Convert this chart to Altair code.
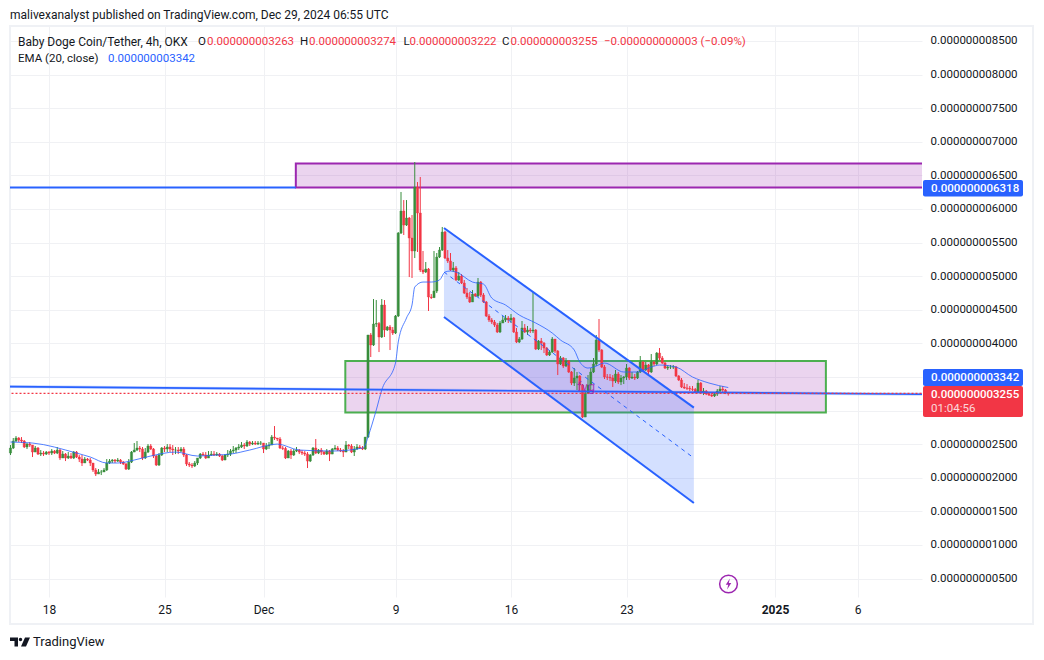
import altair as alt
import pandas as pd

# Prices are in units of 1e-12 USDT; one candle per four hours.
closes = [
2442,2546,2591,2561,2546,2457,2501,2486,2382,2442,
2352,2367,2352,2382,2367,2397,2367,2412,2293,2352,
2293,2323,2293,2382,2308,2278,2219,2278,2263,2219,
2115,2055,2085,2085,2115,2219,2248,2263,2248,2263,
2233,2204,2129,2233,2382,2412,2442,2427,2293,2382,
2472,2427,2323,2189,2338,2442,2427,2457,2427,2412,
2412,2397,2427,2338,2204,2189,2174,2219,2293,2352,
2338,2293,2338,2352,2338,2352,2323,2263,2338,2352,
2397,2412,2442,2457,2486,2472,2531,2501,2516,2501,
2516,2516,2427,2472,2486,2605,2591,2576,2442,2435,
2293,2397,2338,2397,2412,2382,2367,2352,2248,2338,
2442,2367,2412,2382,2352,2397,2352,2427,2442,2412,
2397,2382,2486,2472,2382,2427,2457,2442,2427,2605,
4124,3975,4287,4295,4094,4570,4198,4243,4198,4153,
4406,5641,5969,5760,5865,5567,5374,6326,5939,5091,
5061,5106,4689,4680,4778,5284,5388,5656,5269,5225,
5091,5121,4942,5001,4897,4748,4689,4615,4733,4704,
4912,4719,4615,4406,4347,4317,4272,4168,4302,4347,
4376,4347,4376,4168,4019,4064,4228,4168,4198,4183,
4198,3915,4034,4004,3930,3826,3870,4064,3885,3692,
3781,3662,3737,3573,3409,3484,3513,3379,2903,3260,
3379,3573,3692,4049,3900,3647,3499,3495,3484,3439,
3543,3424,3484,3499,3632,3484,3499,3484,3573,3722,
3603,3677,3573,3722,3692,3855,3781,3707,3632,3647,
3647,3650,3513,3454,3350,3335,3330,3320,3315,3275,
3409,3275,3290,3245,3230,3216,3245,3290,3320,3305,
3275,3255]
highs = [
2486,2591,2620,2605,2605,2561,2516,2531,2486,2472,
2457,2412,2397,2397,2397,2427,2412,2457,2427,2397,
2367,2382,2367,2397,2397,2338,2338,2308,2293,2293,
2219,2144,2129,2115,2144,2278,2278,2278,2278,2293,
2278,2248,2219,2278,2397,2516,2546,2472,2457,2442,
2501,2501,2442,2338,2367,2457,2472,2501,2501,2486,
2457,2457,2457,2457,2352,2233,2219,2248,2293,2367,
2382,2382,2397,2397,2397,2382,2367,2338,2352,2412,
2427,2472,2457,2501,2531,2516,2561,2546,2546,2546,
2546,2546,2516,2516,2531,2635,2769,2591,2605,2472,
2457,2412,2427,2427,2457,2427,2412,2397,2382,2352,
2457,2576,2427,2442,2397,2427,2412,2442,2486,2472,
2442,2427,2546,2501,2501,2472,2501,2486,2472,2605,
4124,4153,4659,4644,4317,4659,4644,4258,4272,4243,
4421,5656,6252,6132,6132,5880,5909,6698,6400,6475,
5374,5210,5121,4733,5374,5344,5433,5731,5671,5388,
5344,5210,5150,5061,5031,4942,4823,4763,4793,4748,
4972,4927,4748,4630,4436,4376,4347,4302,4332,4406,
4421,4406,4436,4391,4228,4094,4332,4287,4258,4228,
4763,4213,4049,4079,4019,3945,3900,4094,4064,3900,
3811,3796,3781,3751,3588,3632,3573,3528,3394,3305,
3528,3632,3781,4124,4362,3915,3677,3543,3543,3528,
3603,3573,3528,3513,3692,3647,3573,3543,3588,3811,
3737,3722,3692,3841,3737,3870,3930,3811,3722,3677,
3677,3677,3662,3528,3484,3409,3394,3365,3365,3335,
3454,3424,3335,3305,3275,3260,3275,3320,3365,3365,
3320,3274]
lows = [
2338,2427,2531,2531,2516,2442,2427,2457,2308,2382,
2338,2323,2323,2338,2338,2338,2352,2352,2263,2293,
2248,2278,2278,2278,2293,2233,2174,2219,2248,2174,
2085,2025,2055,2040,2085,2100,2204,2219,2219,2233,
2204,2189,2115,2115,2219,2382,2397,2382,2263,2278,
2367,2412,2293,2174,2174,2323,2382,2382,2382,2338,
2352,2352,2382,2308,2174,2159,2144,2159,2189,2278,
2323,2278,2293,2323,2323,2323,2308,2248,2263,2308,
2323,2367,2367,2412,2442,2427,2457,2472,2486,2486,
2486,2486,2367,2412,2427,2486,2561,2546,2427,2412,
2278,2323,2278,2323,2382,2352,2338,2323,2144,2233,
2323,2352,2352,2338,2338,2338,2248,2352,2412,2397,
2382,2308,2382,2427,2367,2323,2412,2427,2412,2412,
2591,3796,3960,4243,3870,4079,4094,4183,3900,4124,
4138,4391,5627,5612,5746,4986,4972,5269,5359,5061,
5031,5046,4481,4659,4674,4748,5269,5374,5255,5195,
5076,5061,4927,4927,4882,4733,4659,4600,4615,4689,
4689,4689,4600,4391,4317,4287,4243,4153,4153,4302,
4317,4302,4302,4153,4004,4004,4049,4153,4124,4153,
4153,3900,3900,3900,3855,3811,3811,3855,3855,3528,
3677,3632,3647,3558,3379,3365,3305,3275,2888,2903,
3245,3305,3558,3662,3870,3632,3469,3454,3439,3350,
3409,3394,3379,3394,3454,3454,3469,3454,3469,3558,
3573,3588,3543,3558,3662,3677,3751,3692,3618,3603,
3618,3618,3499,3439,3335,3320,3305,3290,3290,3260,
3260,3260,3230,3230,3216,3201,3201,3216,3275,3275,
3245,3222]
first_open = 2367
last_open = 3263

ema_bar = [0,8,24,29,35,39,45,51,60,68,75,80,87,97,105,117,128,129,130,133,135,140,141,144,146,147,150,153,156,158,160,162,168,172,175,180,185,191,197,200,205,207,210,212,216,223,228,233,236,242,248,254,261]
ema_val = [2531,2516,2367,2308,2219,2219,2263,2323,2382,2323,2338,2352,2412,2501,2412,2397,2442,2486,2605,3007,3305,3707,4020,4377,4570,4838,4912,4912,4942,5061,5076,5061,4912,4882,4674,4570,4421,4302,4153,4049,3900,3722,3632,3647,3707,3573,3573,3647,3677,3647,3499,3409,3342]

price_ticks = [500,1000,1500,2000,2500,3000,3500,4000,4500,5000,5500,6000,6500,7000,7500,8000,8500]
date_ticks = ["2024-11-18","2024-11-25","2024-12-01","2024-12-09","2024-12-16","2024-12-23","2025-01-01","2025-01-06"]

channel_dates = ["2024-12-11T22:30","2024-12-27T02:00"]
channel_upper = [5716,3043]
channel_lower = [4391,1623]
channel_mid = [5061,2293]

zone_top_dates = ["2024-12-02T23:00","2025-01-12T00:00"]
zone_top_prices = [6675,6318]
zone_mid_dates = ["2024-12-05T23:00","2025-01-04T02:00"]
zone_mid_prices = [3737,2970]

level_dates = ["2024-11-15T00:00","2025-01-12T00:00"]
level_high_dates = ["2024-11-15T00:00","2024-12-02T23:00"]
level_high = [6318,6318]
level_trend = [3357,3238]
level_last = [3255,3255]

BLUE, RED, GREEN, PURPLE = "#2962ff", "#f23645", "#388e3c", "#9c27b0"
INK = "#131722"
FONT = "Roboto"

def ms(s):
    return int(pd.Timestamp(s, tz="UTC").value // 10**6)

t0 = ms("2024-11-15T16:00")
STEP = 4 * 3600 * 1000
opens = [first_open] + closes[:-1]
opens[-1] = last_open
candles = pd.DataFrame({
    "t": [t0 + i * STEP for i in range(len(closes))],
    "o": opens, "c": closes,
    "h": [max(a, b, c) for a, b, c in zip(highs, opens, closes)],
    "l": [min(a, b, c) for a, b, c in zip(lows, opens, closes)],
})
candles["dir"] = ["up" if c >= o else "down" for o, c in zip(candles.o, candles.c)]

dom_x = [ms("2024-11-15T15:16"), ms("2024-11-15T15:16") + int(912 / 16.5 * 86400000)]
dom_y = [225, 8722]
xs = alt.Scale(type="utc", domain=dom_x, padding=0, nice=False)
ys = alt.Scale(domain=dom_y, zero=False, nice=False, padding=0)
col = alt.Color("dir:N", scale=alt.Scale(domain=["up", "down"], range=[GREEN, RED]), legend=None)

x_axis = alt.Axis(
    values=[ms(d) for d in date_ticks], title=None, grid=True, gridColor="#f0f1f4", gridWidth=1,
    ticks=False, domain=False, labelFont=FONT, labelFontSize=12, labelColor=INK, labelPadding=7,
    labelOverlap=False, labelFlush=False,
    labelExpr="utcdate(datum.value)==1 ? (utcmonth(datum.value)==0 ? '2025' : 'Dec') : utcdate(datum.value)+''",
    labelFontWeight={"condition": {"test": "utcmonth(datum.value)==0 && utcdate(datum.value)==1", "value": 700}, "value": 400},
)
y_axis = alt.Axis(
    values=price_ticks, orient="right", title=None, grid=True, gridColor="#f0f1f4", gridWidth=1,
    ticks=False, domain=False, labelFont=FONT, labelFontSize=11.5, labelColor=INK, labelPadding=8,
    labelAlign="left", labelOverlap=False,
    labelExpr="(datum.value==3000 || datum.value==3500) ? '' : format(datum.value/1e12,'.12f')",
)
NOX = dict(scale=xs, axis=x_axis)
NOY = dict(scale=ys, axis=y_axis)

def zone(dates, prices, stroke):
    d = pd.DataFrame({"a": [ms(dates[0])], "b": [ms(dates[1])], "p": [prices[0]], "q": [prices[1]]})
    return alt.Chart(d).mark_rect(fill=PURPLE, fillOpacity=0.2, stroke=stroke, strokeWidth=2, clip=True).encode(
        x=alt.X("a:T", **NOX), x2="b:T", y=alt.Y("p:Q", **NOY), y2="q:Q")

def line2(dates, prices, color, width, dash=None, opacity=1.0):
    d = pd.DataFrame({"t": [ms(s) for s in dates], "p": prices})
    kw = dict(color=color, strokeWidth=width, opacity=opacity, clip=True)
    if dash:
        kw["strokeDash"] = dash
    return alt.Chart(d).mark_line(**kw).encode(x=alt.X("t:T", **NOX), y=alt.Y("p:Q", **NOY))

def label(txt, px, py, color=INK, size=11.5, weight=400, opacity=1.0, align="left"):
    return alt.Chart(pd.DataFrame({"k": [0]})).mark_text(
        text=txt, color=color, font=FONT, fontSize=size, fontWeight=weight, align=align, baseline="middle", opacity=opacity
    ).encode(x=alt.value(px - 10), y=alt.value(py - 26))

def box(x1, x2, y1, y2, color):
    return alt.Chart(pd.DataFrame({"k": [0]})).mark_rect(color=color, cornerRadius=2).encode(
        x=alt.value(x1 - 10), x2=alt.value(x2 - 10), y=alt.value(y1 - 26), y2=alt.value(y2 - 26))

frame = alt.Chart(pd.DataFrame({"k": [0]})).mark_rect(fillOpacity=0, stroke="#eff1f5", strokeWidth=2).encode(
    x=alt.value(0), x2=alt.value(1023), y=alt.value(0), y2=alt.value(598))

chan = pd.DataFrame({"t": [ms(s) for s in channel_dates], "u": channel_upper, "l": channel_lower})
channel_fill = alt.Chart(chan).mark_area(color=BLUE, opacity=0.2).encode(
    x=alt.X("t:T", **NOX), y=alt.Y("u:Q", **NOY), y2="l:Q")

wicks = alt.Chart(candles).mark_rule(strokeWidth=1).encode(
    x=alt.X("t:T", **NOX), y=alt.Y("l:Q", **NOY), y2="h:Q", color=col)
bodies = alt.Chart(candles).mark_bar(size=2.2, strokeWidth=0.4).encode(
    x=alt.X("t:T", **NOX), y=alt.Y("o:Q", **NOY), y2="c:Q", color=col, stroke=col)

ema = pd.DataFrame({"t": [t0 + i * STEP for i in ema_bar], "p": ema_val})
ema_line = alt.Chart(ema).mark_line(color=BLUE, strokeWidth=1, opacity=0.8, interpolate="monotone").encode(
    x=alt.X("t:T", **NOX), y=alt.Y("p:Q", **NOY))

fvg = alt.Chart(pd.DataFrame({"t": [ms("2024-12-20T13:00")], "p": [3350]})).mark_text(
    text="fvg", color=PURPLE, font=FONT, fontSize=13, opacity=0.8).encode(
    x=alt.X("t:T", **NOX), y=alt.Y("p:Q", **NOY))

bolt_ring = alt.Chart(pd.DataFrame({"k": [0]})).mark_point(shape="circle", size=314, color=PURPLE, strokeWidth=1.5, filled=False, opacity=1).encode(
    x=alt.value(718.5), y=alt.value(558))
bolt = alt.Chart(pd.DataFrame({"k": [0]})).mark_point(
    shape="M.25,-1L-.5,.15H-.05L-.25,1L.5,-.2H.05Z", size=121, color=PURPLE, filled=True, opacity=1).encode(
    x=alt.value(718.5), y=alt.value(558))
tv_logo = alt.Chart(pd.DataFrame({"k": [0]})).mark_point(
    shape="M-1,-.45H-.2V.45H-.55V-.1H-1ZM.05,-.42A.17,.17 0 1 1 .05,-.08A.17,.17 0 1 1 .05,-.42ZM.5,-.45H1L.6,.45H.1Z",
    size=400, color=INK, filled=True, opacity=1).encode(x=alt.value(10), y=alt.value(616))

texts = [
    label("malivexanalyst published on TradingView.com, Dec 29, 2024 06:55 UTC", 10, 14.5, size=12),
    label("Baby Doge Coin/Tether, 4h, OKX", 18, 42, size=12),
    label("O", 198, 42), label("0.000000003263", 207, 42, RED),
    label("H", 300, 42), label("0.000000003274", 309, 42, RED),
    label("L", 403.5, 42), label("0.000000003222", 409.5, 42, RED),
    label("C", 502, 42), label("0.000000003255", 510.5, 42, RED),
    label("\u22120.000000000003 (\u22120.09%)", 604, 42, RED),
    label("EMA (20, close)", 18, 59), label("0.000000003342", 108, 59, BLUE),
    box(923, 1023, 180, 196.5, BLUE), label("0.000000006318", 931, 188.5, "white", 11.5, 500),
    box(923, 1023, 369, 386, BLUE), label("0.000000003342", 931, 377.5, "white", 11.5, 500),
    box(923, 1023, 386, 417, RED), label("0.000000003255", 931, 394.5, "white", 11.5, 500),
    label("01:04:56", 931, 409, "white", 11.5, 400, 0.8),
    label("TradingView", 33, 642, INK, 13),
]

chart = alt.layer(
    frame,
    zone(zone_mid_dates, zone_mid_prices, "#4caf50"),
    zone(zone_top_dates, zone_top_prices, PURPLE),
    channel_fill,
    wicks, bodies, ema_line,
    line2(level_dates, level_trend, BLUE, 3, opacity=0.25),
    line2(level_dates, level_trend, BLUE, 1.6),
    line2(level_high_dates, level_high, BLUE, 2),
    line2(level_dates, level_last, RED, 1.2, dash=[2, 2]),
    line2(channel_dates, channel_upper, BLUE, 2),
    line2(channel_dates, channel_lower, BLUE, 2),
    line2(channel_dates, channel_mid, BLUE, 1, dash=[4, 4]),
    fvg, bolt_ring, bolt, tv_logo,
    *texts,
).properties(
    width=912, height=571,
    padding={"left": 2, "top": 18, "right": 114, "bottom": 52},
    autosize=alt.AutoSizeParams(type="none"),
    background="white",
).configure_view(stroke=None)

chart.save("out.html", embed_options={"renderer": "svg", "actions": False})
